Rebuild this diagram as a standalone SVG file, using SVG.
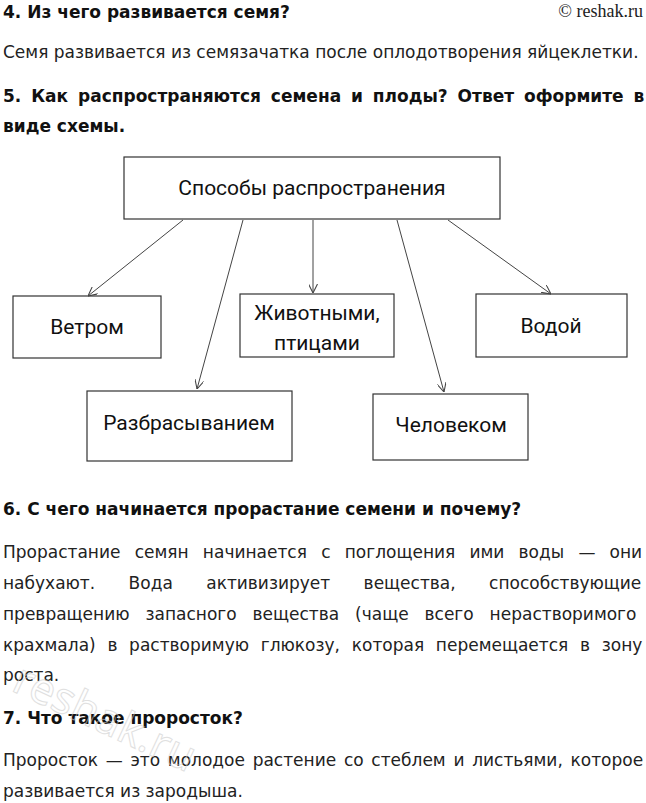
<svg xmlns="http://www.w3.org/2000/svg" width="646" height="803" viewBox="0 0 646 803">
<style>
.h{font-family:"DejaVu Sans",sans-serif;font-weight:bold;font-size:17px;fill:#111}
.p{font-family:"DejaVu Sans",sans-serif;font-size:17px;fill:#222}
.n{font-family:Roboto,sans-serif;font-size:21px;fill:#111;text-anchor:middle}
.b{fill:#fff;stroke:#333;stroke-width:1.2}
.c line{stroke:#444;stroke-width:1;marker-end:url(#a)}
</style>
<defs><marker id="a" viewBox="0 0 10 10" refX="10" refY="5" markerWidth="9" markerHeight="9" orient="auto" markerUnits="userSpaceOnUse"><path d="M0,0 L10,5 L0,10" fill="none" stroke="#444" stroke-width="1.2"/></marker></defs>
<rect width="646" height="803" fill="#fff"/>
<text class="h" x="3" y="18">4. Из чего развивается семя?</text>
<text x="643" y="17" text-anchor="end" font-family="Liberation Serif,serif" font-size="18" fill="#222">© reshak.ru</text>
<text class="p" x="3" y="58">Семя развивается из семязачатка после оплодотворения яйцеклетки.</text>
<text class="h" x="3" y="102" word-spacing="4">5. Как распространяются семена и плоды? Ответ оформите в</text>
<text class="h" x="3" y="132">виде схемы.</text>
<g id="top"><rect class="b" x="124" y="157" width="376" height="62"/><text class="n" x="312" y="195">Способы распространения</text></g>
<g id="n1"><rect class="b" x="13" y="296" width="148" height="62"/><text class="n" x="87" y="334">Ветром</text></g>
<g id="n2"><rect class="b" x="87" y="391" width="205" height="70"/><text class="n" x="189" y="430">Разбрасыванием</text></g>
<g id="n3"><rect class="b" x="240" y="294" width="154" height="63"/><text class="n" x="317" y="320">Животными,</text><text class="n" x="317" y="350">птицами</text></g>
<g id="n4"><rect class="b" x="476" y="294" width="151" height="63"/><text class="n" x="551" y="333">Водой</text></g>
<g id="n5"><rect class="b" x="373" y="394" width="155" height="66"/><text class="n" x="451" y="432">Человеком</text></g>
<g class="c">
<line x1="183" y1="220" x2="88" y2="296"/>
<line x1="243" y1="220" x2="197" y2="389"/>
<line x1="313" y1="220" x2="313" y2="293"/>
<line x1="397" y1="220" x2="444" y2="392"/>
<line x1="448" y1="220" x2="551" y2="294"/>
</g>
<text class="h" x="3" y="515">6. С чего начинается прорастание семени и почему?</text>
<text class="p" x="3" y="558" word-spacing="8.8">Прорастание семян начинается с поглощения ими воды — они</text>
<text class="p" x="3" y="589" word-spacing="28">набухают. Вода активизирует вещества, способствующие</text>
<text class="p" x="3" y="620" word-spacing="10.5">превращению запасного вещества (чаще всего нерастворимого</text>
<text class="p" x="3" y="651" word-spacing="6.3">крахмала) в растворимую глюкозу, которая перемещается в зону</text>
<text class="p" x="3" y="681">роста.</text>
<text class="h" x="3" y="724">7. Что такое проросток?</text>
<text class="p" x="3" y="766" word-spacing="2.3">Проросток — это молодое растение со стеблем и листьями, которое</text>
<text class="p" x="3" y="797">развивается из зародыша.</text>
<text x="10" y="690" transform="rotate(25 10 690)" font-family="Noto Sans,sans-serif" font-size="44" fill="none" stroke="#ccc" stroke-width="1" opacity="0.6">reshak.ru</text>
</svg>
